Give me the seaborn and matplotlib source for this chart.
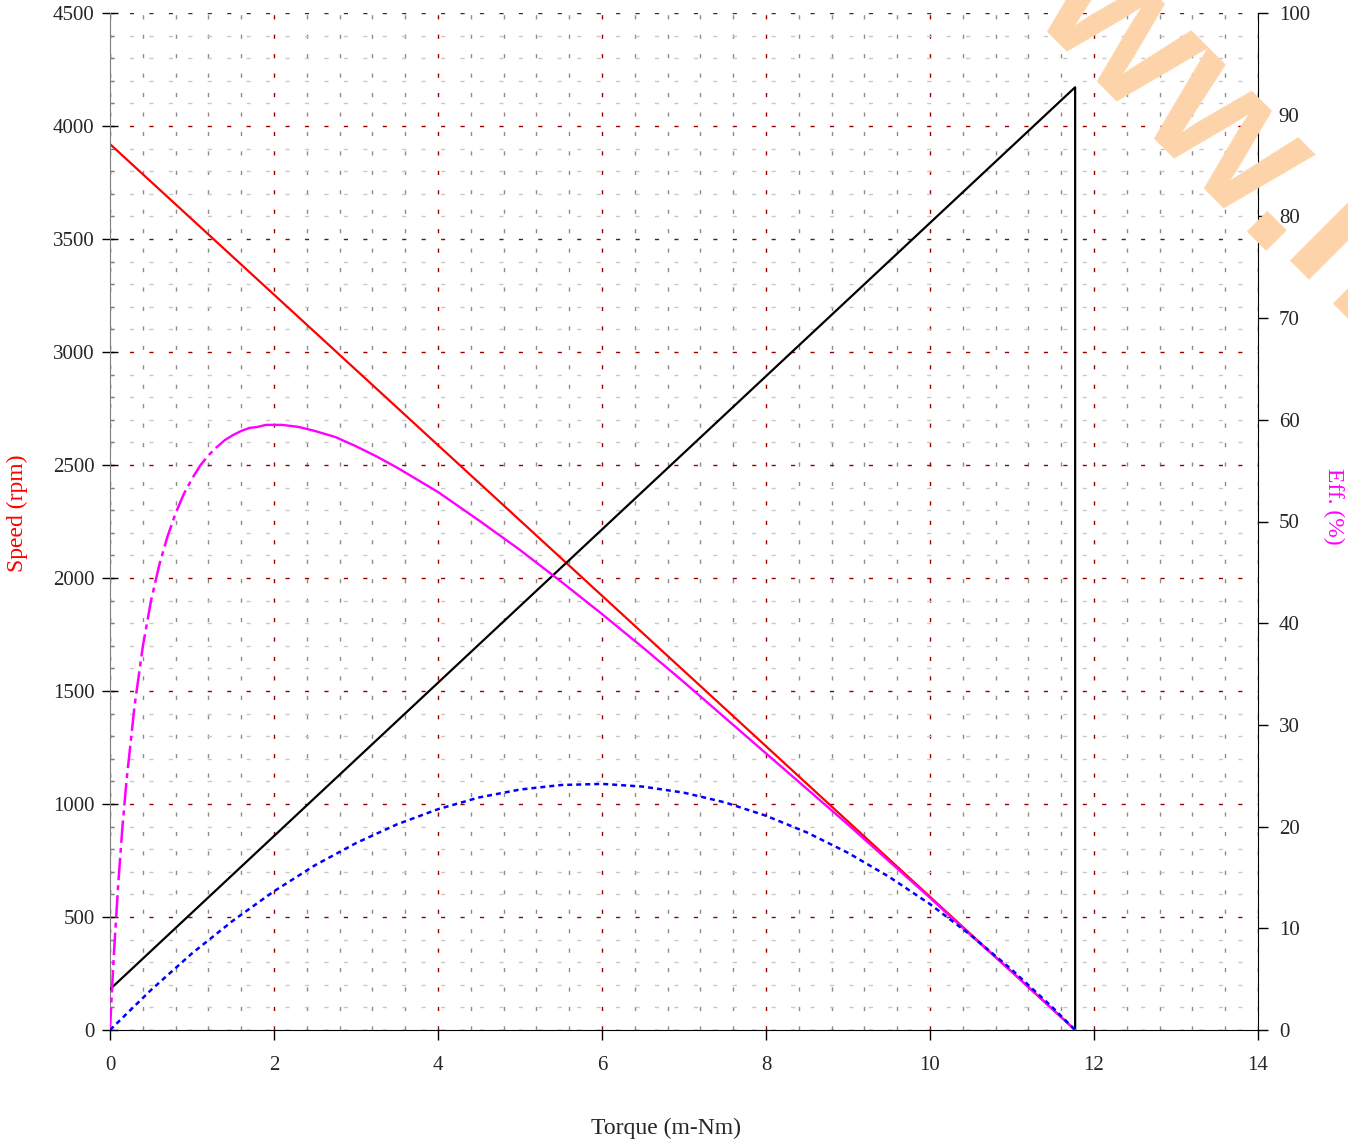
import numpy as np
import pandas as pd
import matplotlib
matplotlib.use('Agg')
import matplotlib.pyplot as plt
from matplotlib.ticker import MultipleLocator, FixedLocator
import seaborn as sns

# Dados
torque_vel = [0, 11.77]
velocidade = [3920, 0]  # rpm

torque_corr = [0, 11.77, 11.77]
corrente = [4.0, 92.7, 0]

torque_pot = [0, 0.5, 1, 1.5, 2, 2.5, 3, 3.5, 4, 4.5, 5, 5.5, 6, 6.5, 7,
              7.5, 8, 8.5, 9, 9.5, 10, 10.5, 11, 11.5, 11.77]
potencia = [0, 177, 339, 484, 614, 729, 827, 910, 977, 1029, 1064, 1084, 1089,
            1077, 1050, 1007, 948, 874, 784, 678, 557, 419, 266, 98, 0]  # escala da esquerda

torque_ef_ini = [0, 0.025, 0.05, 0.1, 0.15, 0.2, 0.3, 0.4, 0.5, 0.6, 0.7, 0.8,
                 0.9, 1.0, 1.1, 1.2, 1.3]
eficiencia_ini = [0, 4.1, 7.8, 14.3, 19.8, 24.4, 31.9, 37.7, 42.2, 45.7, 48.5,
                  50.8, 52.7, 54.2, 55.5, 56.5, 57.3]
torque_ef = [1.3, 1.4, 1.5, 1.6, 1.7, 1.8, 1.9, 2.0, 2.1, 2.2, 2.3, 2.4, 2.5,
             2.75, 3.0, 3.25, 3.5, 3.75, 4.0, 4.5, 5, 5.5, 6, 6.5, 7, 7.5, 8,
             8.5, 9, 9.5, 10, 10.5, 11, 11.5, 11.77]
eficiencia = [57.3, 58.0, 58.5, 58.9, 59.2, 59.3, 59.5, 59.5, 59.5, 59.4, 59.3,
              59.1, 58.9, 58.3, 57.4, 56.4, 55.3, 54.1, 52.9, 50.1, 47.2, 44.1,
              40.9, 37.6, 34.2, 30.7, 27.2, 23.7, 20.2, 16.6, 13.0, 9.3, 5.7,
              2.0, 0]

sns.set_style('white')
plt.rcParams['font.family'] = ['Liberation Serif', 'DejaVu Serif']

L, H = 1348, 1142
fig = plt.figure(figsize=(L / 100, H / 100), dpi=100)
# eixo em pixels inteiros: 164 px por 2 N.m, 113 px por 500 rpm
ax = fig.add_axes([110 / L, 112 / H, 1148 / L, 1017 / H])

# Grade (linhas secundárias sem repetir as principais)
ax.set_xlim(0, 14)
ax.set_ylim(0, 4500)
ax.xaxis.set_major_locator(MultipleLocator(2))
ax.yaxis.set_major_locator(MultipleLocator(500))
menores_x = [v for v in np.round(np.arange(0, 14.01, 0.4), 1) if v % 2 != 0]
menores_y = [v for v in range(0, 4501, 100) if v % 500 != 0]
ax.xaxis.set_minor_locator(FixedLocator(menores_x))
ax.yaxis.set_minor_locator(FixedLocator(menores_y))
tracejado = (0, (3, 11))
ax.xaxis.grid(True, which='minor', color='#8c8c8c', linestyle=tracejado, lw=1)
ax.yaxis.grid(True, which='minor', color='#c8c8c8', linestyle=tracejado, lw=1)
ax.xaxis.grid(True, which='major', color='#990000', linestyle=tracejado, lw=1)
ax.yaxis.grid(True, which='major', color='#990000', linestyle=tracejado, lw=1)
ax.set_axisbelow(True)

sns.lineplot(x=torque_vel, y=velocidade, ax=ax, color='red', lw=1.6,
             estimator=None, sort=False)

ax2 = ax.twinx()
ax2.set_ylim(0, 100)
ax2.yaxis.set_major_locator(MultipleLocator(10))
sns.lineplot(x=torque_corr, y=corrente, ax=ax2, color='black', lw=1.6,
             estimator=None, sort=False)
sns.lineplot(x=torque_ef_ini, y=eficiencia_ini, ax=ax2, color='magenta', lw=1.8,
             estimator=None, sort=False, linestyle=(0, (9, 2, 2, 2)))
sns.lineplot(x=torque_ef, y=eficiencia, ax=ax2, color='magenta', lw=1.7,
             estimator=None, sort=False)

ax3 = ax.twinx()
ax3.set_ylim(0, 4500)
sns.lineplot(x=torque_pot, y=potencia, ax=ax3, color='blue', lw=1.8,
             estimator=None, sort=False, linestyle=(0, (2, 1.6)))
ax3.set_yticks([])
for s in ax3.spines.values():
    s.set_visible(False)
ax3.set_ylabel('')

# Eixos
ax.spines['top'].set_visible(False)
ax.spines['right'].set_visible(False)
ax.spines['left'].set_color('#7f7f7f')
ax.spines['bottom'].set_color('black')
for s in ['top', 'left', 'bottom']:
    ax2.spines[s].set_visible(False)
ax2.spines['right'].set_color('black')

ax.tick_params(axis='x', which='major', direction='out', length=7, width=1,
               color='black', labelsize=15, pad=12, bottom=True)
ax.tick_params(axis='x', which='minor', length=0)
ax.tick_params(axis='y', which='major', direction='inout', length=12, width=1,
               color='black', labelsize=15, pad=5, left=True)
ax.tick_params(axis='y', which='minor', direction='in', length=3, width=1,
               color='#7f7f7f', left=True)
ax2.tick_params(axis='y', which='major', direction='out', length=7, width=1,
                color='black', labelsize=15, pad=8, right=True)

ax.set_xlabel('Torque (m-Nm)', fontsize=17, va='center')
ax.xaxis.set_label_coords(0.484, -0.0965)
ax.set_ylabel('Speed (rpm)', fontsize=17, color='red', va='center')
ax.yaxis.set_label_coords(-0.081, 0.508)
ax2.set_ylabel('Eff. (%)', fontsize=17, color='magenta', rotation=270, va='center')
ax2.yaxis.set_label_coords(1.066, 0.515)

# Marca d'água
marca = dict(transform=None, fontsize=140, fontweight='bold', family='Liberation Sans',
             color='#fdd3aa', rotation=-45, rotation_mode='anchor', va='baseline',
             zorder=10)
fig.text(1276, H - 260, 'www.', ha='right', **marca)
fig.text(1276, H - 260, 'm', ha='left', **marca)

fig.savefig('out.png', dpi=100)
